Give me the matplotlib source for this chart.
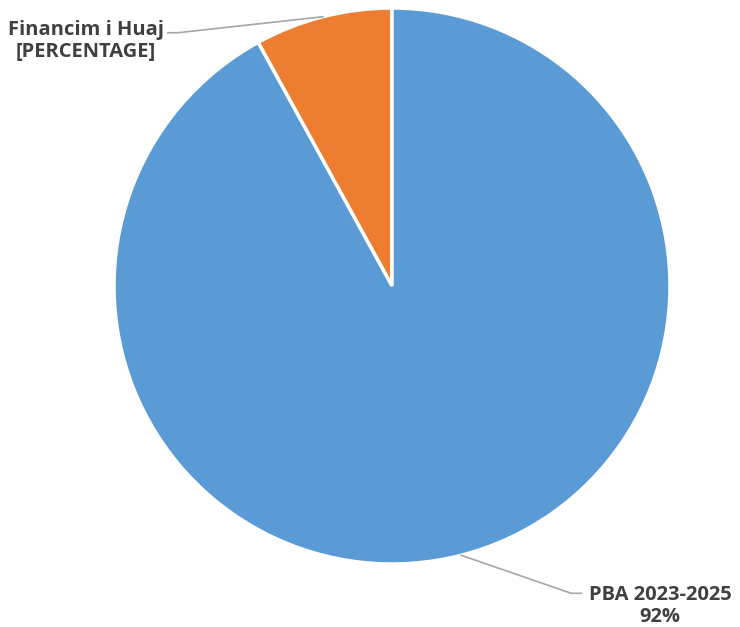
import numpy as np
import matplotlib.pyplot as plt

labels = ['Financim i Huaj', 'PBA 2023-2025']
label_texts = ['Financim i Huaj\n[PERCENTAGE]', 'PBA 2023-2025\n92%']
values = [8, 92]
colors = ['#ED7D31', '#5B9BD5']

fig = plt.figure(figsize=(7.4, 6.27), dpi=100)
ax = fig.add_axes([0, 0, 1, 1])

R = 278
wedges, _ = ax.pie(values, colors=colors, startangle=90, counterclock=True,
                   radius=R, wedgeprops=dict(edgecolor='white', linewidth=2.5))

# pie() resets the view, so set the limits afterwards
ax.set_xlim(-392, 348)
ax.set_ylim(-341, 286)
ax.set_aspect('equal')
ax.axis('off')

# label layout: (elbow offset from wedge point, text position)
elbows = [(-145, -16), (110, -38)]
text_pos = [(-306, 245), (268, -320)]
sides = [-1, 1]

for w, txt, (ex, ey), (tx, ty), s in zip(wedges, label_texts, elbows, text_pos, sides):
    mid = np.deg2rad((w.theta1 + w.theta2) / 2)
    x0, y0 = R * np.cos(mid), R * np.sin(mid)
    x1, y1 = x0 + ex, y0 + ey
    x2 = x1 + 10 * s
    ax.plot([x0, x1, x2], [y0, y1, y1], color='#A6A6A6', linewidth=1.2)
    ax.text(tx, ty, txt, ha='center', va='center', fontsize=14.5, fontweight='bold',
            color='#404040', family='Open Sans', linespacing=1.1)

fig.savefig('out.png', dpi=100)
